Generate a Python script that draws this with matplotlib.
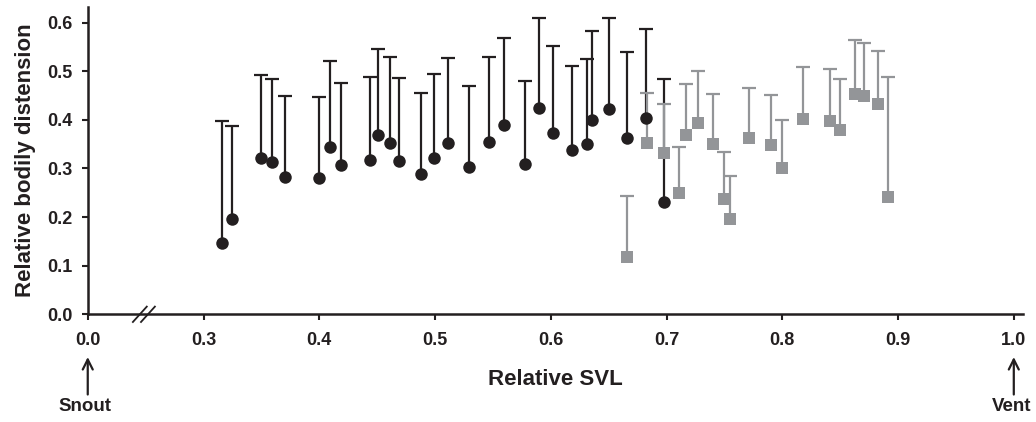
import numpy as np
import matplotlib
matplotlib.use("Agg")
import matplotlib.pyplot as plt

plt.rcParams["font.family"] = ["Liberation Sans", "DejaVu Sans"]
plt.rcParams["font.weight"] = "bold"

# black circles: relative SVL, mean distension, upper error
svl_a = [0.316, 0.325, 0.350, 0.359, 0.370, 0.400, 0.409, 0.419, 0.444, 0.451,
         0.461, 0.469, 0.488, 0.499, 0.511, 0.529, 0.547, 0.560, 0.578, 0.590,
         0.602, 0.618, 0.631, 0.636, 0.650, 0.666, 0.682, 0.698]
dist_a = [0.147, 0.196, 0.321, 0.313, 0.283, 0.281, 0.345, 0.307, 0.318, 0.368,
          0.353, 0.315, 0.289, 0.322, 0.352, 0.302, 0.355, 0.389, 0.309, 0.425,
          0.373, 0.338, 0.350, 0.400, 0.423, 0.363, 0.404, 0.230]
top_a = [0.398, 0.387, 0.492, 0.483, 0.449, 0.447, 0.520, 0.476, 0.488, 0.546,
         0.529, 0.486, 0.455, 0.494, 0.528, 0.470, 0.530, 0.569, 0.479, 0.610,
         0.551, 0.511, 0.525, 0.582, 0.609, 0.540, 0.587, 0.483]

# grey squares
svl_b = [0.666, 0.683, 0.698, 0.711, 0.717, 0.727, 0.740, 0.750, 0.755, 0.771,
         0.790, 0.800, 0.818, 0.841, 0.850, 0.863, 0.871, 0.883, 0.891]
dist_b = [0.118, 0.353, 0.332, 0.250, 0.369, 0.394, 0.351, 0.237, 0.195, 0.363,
          0.349, 0.300, 0.402, 0.398, 0.380, 0.454, 0.448, 0.433, 0.242]
top_b = [0.243, 0.456, 0.433, 0.345, 0.474, 0.501, 0.454, 0.333, 0.285, 0.466,
         0.451, 0.399, 0.509, 0.505, 0.483, 0.565, 0.558, 0.542, 0.488]

x_ticks = [0.2, 0.3, 0.4, 0.5, 0.6, 0.7, 0.8, 0.9, 1.0]
x_labels = ["0.0", "0.3", "0.4", "0.5", "0.6", "0.7", "0.8", "0.9", "1.0"]
y_ticks = [0.0, 0.1, 0.2, 0.3, 0.4, 0.5, 0.6]

dark = "#231f20"
grey = "#939598"

fig = plt.figure(figsize=(10.36, 4.22), dpi=100)
ax = fig.add_axes([0.0847, 0.2552, 0.9028, 0.7282])


def draw(x, y, top, color, marker, size):
    y = np.array(y)
    up = np.array(top) - y
    line, caps, _ = ax.errorbar(x, y, yerr=[np.zeros_like(up), up], fmt=marker,
                                color=color, ms=size, elinewidth=1.6,
                                capsize=4.7, capthick=1.6)
    line.set_markeredgewidth(0)
    caps[0].set_visible(False)


draw(svl_a, dist_a, top_a, dark, "o", 9)
draw(svl_b, dist_b, top_b, grey, "s", 8.3)

ax.set_xlim(0.2, 1.008)
ax.set_ylim(0, 0.632)
ax.set_xticks(x_ticks)
ax.set_xticklabels(x_labels)
ax.set_yticks(y_ticks)
ax.set_yticklabels([f"{v:.1f}" for v in y_ticks])
ax.tick_params(labelsize=13, colors=dark, width=1.5, length=4)
ax.tick_params(axis="x", pad=9)
ax.tick_params(axis="y", pad=7)
for s in ["top", "right"]:
    ax.spines[s].set_visible(False)
for s in ["left", "bottom"]:
    ax.spines[s].set_linewidth(1.8)
    ax.spines[s].set_color(dark)

ax.set_ylabel("Relative bodily distension", fontsize=16, fontweight="bold",
              color=dark, labelpad=8)
ax.set_xlabel("Relative SVL", fontsize=16, fontweight="bold", color=dark,
              labelpad=14)

# axis break marks
tr = ax.get_xaxis_transform()
for dx in (0.245, 0.252):
    ax.plot([dx - 0.006, dx + 0.006], [-0.025, 0.025], transform=tr,
            color=dark, lw=1.3, clip_on=False)

# Snout / Vent arrows
for xv, name in ((0.2, "Snout"), (1.0, "Vent")):
    ax.annotate("", xy=(xv, -0.13), xytext=(xv, -0.27), xycoords=tr,
                textcoords=tr, arrowprops=dict(arrowstyle="->", lw=1.6,
                                               color=dark, mutation_scale=18))
    ax.text(xv - 0.002, -0.30, name, transform=tr, ha="center", va="center",
            fontsize=13.5, fontweight="bold", color=dark)

fig.savefig("out.png", dpi=100)
